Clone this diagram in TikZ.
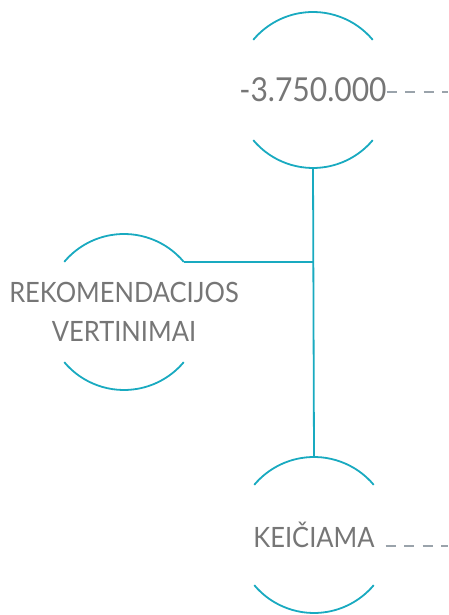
\documentclass[tikz,border=0pt]{standalone}
\usepackage{fontspec}
\setmainfont{Lato}[FakeStretch=0.91]
\definecolor{ringblue}{HTML}{19AAC0}
\definecolor{labelgray}{HTML}{767676}
\definecolor{dashgray}{HTML}{9AA3AB}

\begin{document}
\begin{tikzpicture}[x=1pt, y=1pt, every node/.style={text=labelgray, outer sep=0pt},
  ring/.style={draw=ringblue, line width=1.8pt},
  link/.style={draw=ringblue, line width=1.8pt},
  trail/.style={draw=dashgray, line width=1.8pt, dash pattern=on 10pt off 8.5pt}]
\useasboundingbox (0,0) rectangle (448,615);

\node[font=\fontsize{33}{36}\selectfont, inner sep=0pt] (amount) at (313,525) {-3.750.000};
\node[font=\fontsize{28}{38.5}\selectfont, align=center] (ratings) at (124,303) {REKOMENDACIJOS\\VERTINIMAI};
\node[font=\fontsize{28}{30}\selectfont, inner sep=11pt] (changing) at (314,80) {KEIČIAMA};

\draw[ring] ([shift={(40:78)}]amount.center) arc[start angle=40, end angle=140, radius=78];
\draw[ring] ([shift={(220:78)}]amount.center) arc[start angle=220, end angle=320, radius=78];
\draw[ring] ([shift={(40:78)}]ratings.center) arc[start angle=40, end angle=140, radius=78];
\draw[ring] ([shift={(220:78)}]ratings.center) arc[start angle=220, end angle=320, radius=78];
\draw[ring] ([shift={(40:78)}]changing.center) arc[start angle=40, end angle=140, radius=78];
\draw[ring] ([shift={(220:78)}]changing.center) arc[start angle=220, end angle=320, radius=78];

\coordinate (ratingstip) at ([shift={(40:78)}]ratings.center);
\draw[link] ([shift={(270:78)}]amount.center) -- ([shift={(90:78)}]changing.center);
\draw[link] (ratingstip) -- (ratingstip -| amount);

\coordinate (amountend) at (448,523);
\coordinate (changingend) at (448,69);
\draw[trail] (amount.east |- amountend) -- (amountend);
\draw[trail] (changing.east |- changingend) -- (changingend);
\end{tikzpicture}
\end{document}
